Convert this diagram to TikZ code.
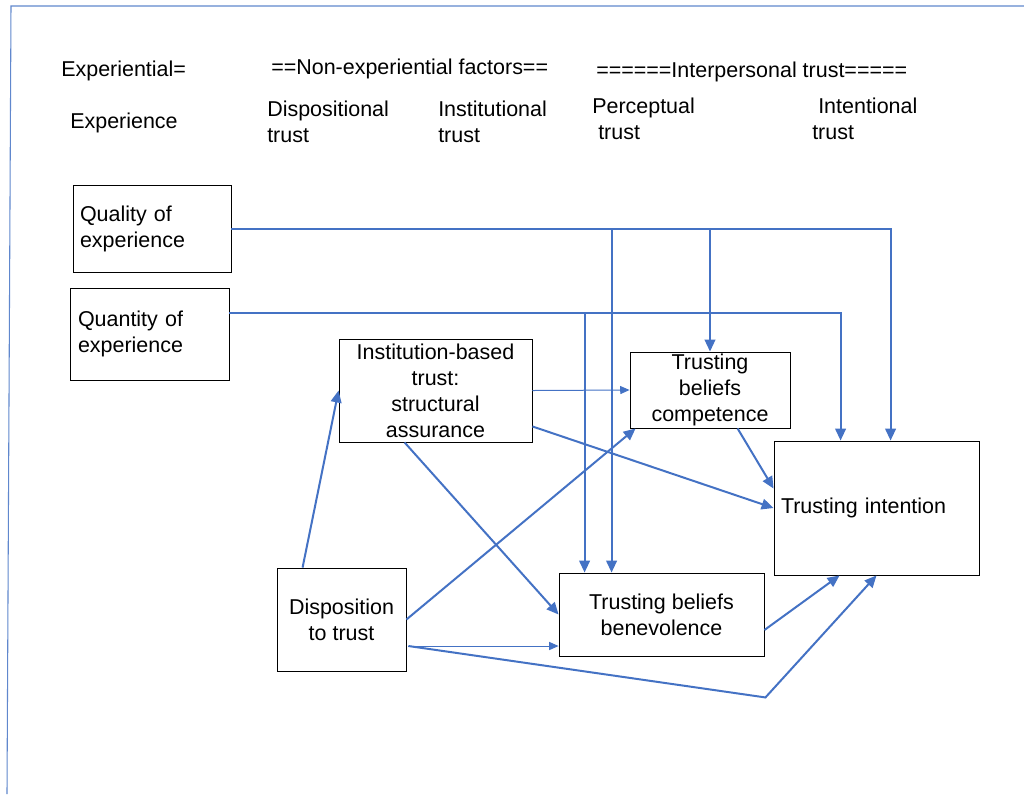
\documentclass[tikz,border=0pt]{standalone}
\usepackage{fontspec}
\setmainfont{Liberation Sans}
\usetikzlibrary{arrows.meta,calc}
\definecolor{linkblue}{HTML}{4472C4}
\begin{document}
\begin{tikzpicture}[x=0.75pt,y=-0.75pt,
  font=\fontsize{16.1}{19.5}\selectfont,
  box/.style={draw=black,line width=0.65pt,rectangle,inner ysep=0pt},
  lbox/.style={box,align=left},
  cbox/.style={box,align=center},
  head/.style={anchor=west,inner sep=0pt,align=left},
  link/.style={draw=linkblue,line width=1.5pt,-{Triangle[length=9pt,width=8pt]}},
  thinlink/.style={draw=linkblue,line width=0.75pt,-{Triangle[length=7pt,width=6pt]}},
  frameline/.style={draw=linkblue!85,line width=0.8pt}]
\useasboundingbox (0,0) rectangle (1024,794);

% page frame
\draw[frameline] (1024,6) -- (11,6) -- (7,794);

% column headings
\node[head] (hexp)  at (61,71)  {Experiential=};
\node[head] (hexp2) at (70,123) {Experience};
\node[head] (hnon)  at (271,69) {==Non-experiential factors==};
\node[head] (hdisp) at (267,122) {Dispositional\\trust};
\node[head] (hinst) at (438,122) {Institutional\\trust};
\node[head] (hint)  at (596,72) {======Interpersonal trust=====};
\node[head] (hperc) at (592,119) {Perceptual\\\hspace*{4.5pt}trust};
\node[head] (hintn) at (812,119) {\hspace*{4.5pt}Intentional\\trust};

% construct boxes
\node[lbox,minimum width=118.5pt,minimum height=65.25pt,inner xsep=5.25pt,text width=108pt]
  (qual) at (152,228.5) {Quality of\\experience};
\node[lbox,minimum width=119.25pt,minimum height=69pt,inner xsep=6pt,text width=107.25pt]
  (quan) at (149.5,334) {Quantity of\\experience};
\node[cbox,minimum width=144.75pt,minimum height=77.25pt]
  (inst) at (435.5,390.5) {Institution-based\\trust:\\structural\\assurance};
\node[cbox,minimum width=120pt,minimum height=57pt]
  (comp) at (710,390) {Trusting\\beliefs\\competence};
\node[lbox,minimum width=153.75pt,minimum height=100.5pt,inner xsep=5.25pt,text width=143.25pt]
  (ti) at (876.5,508) {Trusting intention};
\node[cbox,minimum width=153.75pt,minimum height=62.25pt]
  (ben) at (661.5,614.5) {Trusting beliefs\\benevolence};
\node[cbox,minimum width=96.75pt,minimum height=77.25pt]
  (disp) at (341.5,619.5) {Disposition\\to trust};

% entry points on the target boxes
\coordinate (tiA) at ($(ti.north west)+(117,0)$);
\coordinate (tiB) at ($(ti.north west)+(67,0)$);
\coordinate (benA) at ($(ben.north west)+(53,0)$);
\coordinate (benB) at ($(ben.north west)+(26,0)$);
\coordinate (quanOut) at ($(quan.east)+(0,-21)$);
\coordinate (dispLow) at ($(disp.east)+(2,26.5)$);
\coordinate (bend) at ($(ben.south east)+(1,41)$);

% quality of experience
\draw[link] (qual.east) -| (tiA);
\draw[link] (benA |- qual.east) -- (benA);
\draw[link] (comp.north |- qual.east) -- (comp.north);

% quantity of experience
\draw[link] (quanOut) -| (tiB);
\draw[link] (benB |- quanOut) -- (benB);

% institution-based trust
\draw[thinlink] (inst.east) -- (comp.west);
\draw[link] ($(inst.south east)+(0,-16)$) -- (ti.west);
\draw[link] ($(inst.south west)+(66,0)$) -- (ben.west);

% disposition to trust
\draw[link] ($(disp.north west)+(26,0)$) -- (inst.west);
\draw[link] (disp.east) -- ($(comp.south west)+(6,0)$);
\draw[thinlink] (dispLow) -- (ben.west |- dispLow);
\draw[link] (dispLow) -- (bend) -- (ti.south);

% trusting beliefs to intention
\draw[link] ($(comp.south west)+(108,0)$) -- ($(ti.north west)+(0,48)$);
\draw[link] ($(ben.east)+(0,15.5)$) -- ($(ti.south west)+(66,0)$);
\end{tikzpicture}
\end{document}
